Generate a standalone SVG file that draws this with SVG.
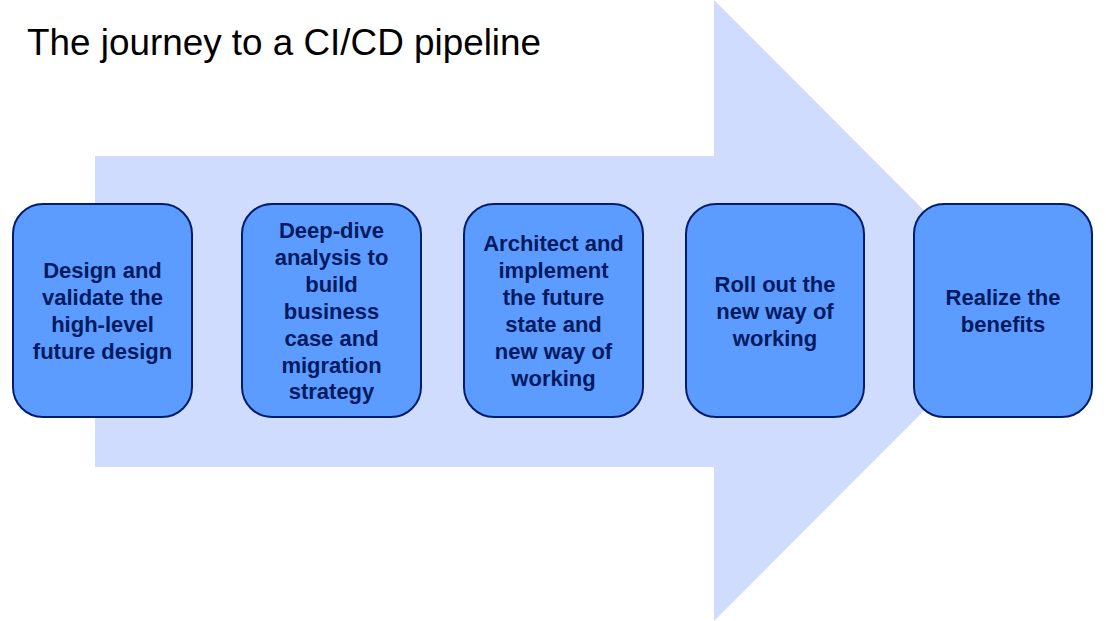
<svg xmlns="http://www.w3.org/2000/svg" width="1106" height="621" viewBox="0 0 1106 621">
<style>
.box{fill:#5c9bff;stroke:#001d6c;stroke-width:2}
.lbl{font-family:"Liberation Sans",Arial,sans-serif;font-weight:bold;font-size:22px;fill:#001a5e;text-anchor:middle}
.title{font-family:"Liberation Sans",Arial,sans-serif;font-size:36px;fill:#000}
</style>
<rect width="1106" height="621" fill="#fff"/>
<g id="arrow">
<polygon points="95,156 714,156 714,0 1024,310.5 714,621 714,467 95,467" fill="#d0dcfd"/>
</g>
<text class="title" x="27" y="55" textLength="514" lengthAdjust="spacingAndGlyphs">The journey to a CI/CD pipeline</text>
<g id="connectors"></g>
<g id="n1">
<rect class="box" x="13" y="204" width="179" height="213" rx="30"/>
<text class="lbl" x="102.5" y="277.5">Design and</text>
<text class="lbl" x="102.5" y="304.5">validate the</text>
<text class="lbl" x="102.5" y="331.5">high-level</text>
<text class="lbl" x="102.5" y="358.5">future design</text>
</g>
<g id="n2">
<rect class="box" x="242" y="204" width="179" height="213" rx="30"/>
<text class="lbl" x="331.5" y="237.5">Deep-dive</text>
<text class="lbl" x="331.5" y="264.5">analysis to</text>
<text class="lbl" x="331.5" y="291.5">build</text>
<text class="lbl" x="331.5" y="318.5">business</text>
<text class="lbl" x="331.5" y="345.5">case and</text>
<text class="lbl" x="331.5" y="372.5">migration</text>
<text class="lbl" x="331.5" y="398.5">strategy</text>
</g>
<g id="n3">
<rect class="box" x="464" y="204" width="179" height="213" rx="30"/>
<text class="lbl" x="553.5" y="250.5">Architect and</text>
<text class="lbl" x="553.5" y="277.5">implement</text>
<text class="lbl" x="553.5" y="304.5">the future</text>
<text class="lbl" x="553.5" y="331.5">state and</text>
<text class="lbl" x="553.5" y="358.5">new way of</text>
<text class="lbl" x="553.5" y="385.5">working</text>
</g>
<g id="n4">
<rect class="box" x="686" y="204" width="178" height="213" rx="30"/>
<text class="lbl" x="775" y="291.5">Roll out the</text>
<text class="lbl" x="775" y="318.5">new way of</text>
<text class="lbl" x="775" y="345.5">working</text>
</g>
<g id="n5">
<rect class="box" x="914" y="204" width="178" height="213" rx="30"/>
<text class="lbl" x="1003" y="304.5">Realize the</text>
<text class="lbl" x="1003" y="331.5">benefits</text>
</g>
</svg>
